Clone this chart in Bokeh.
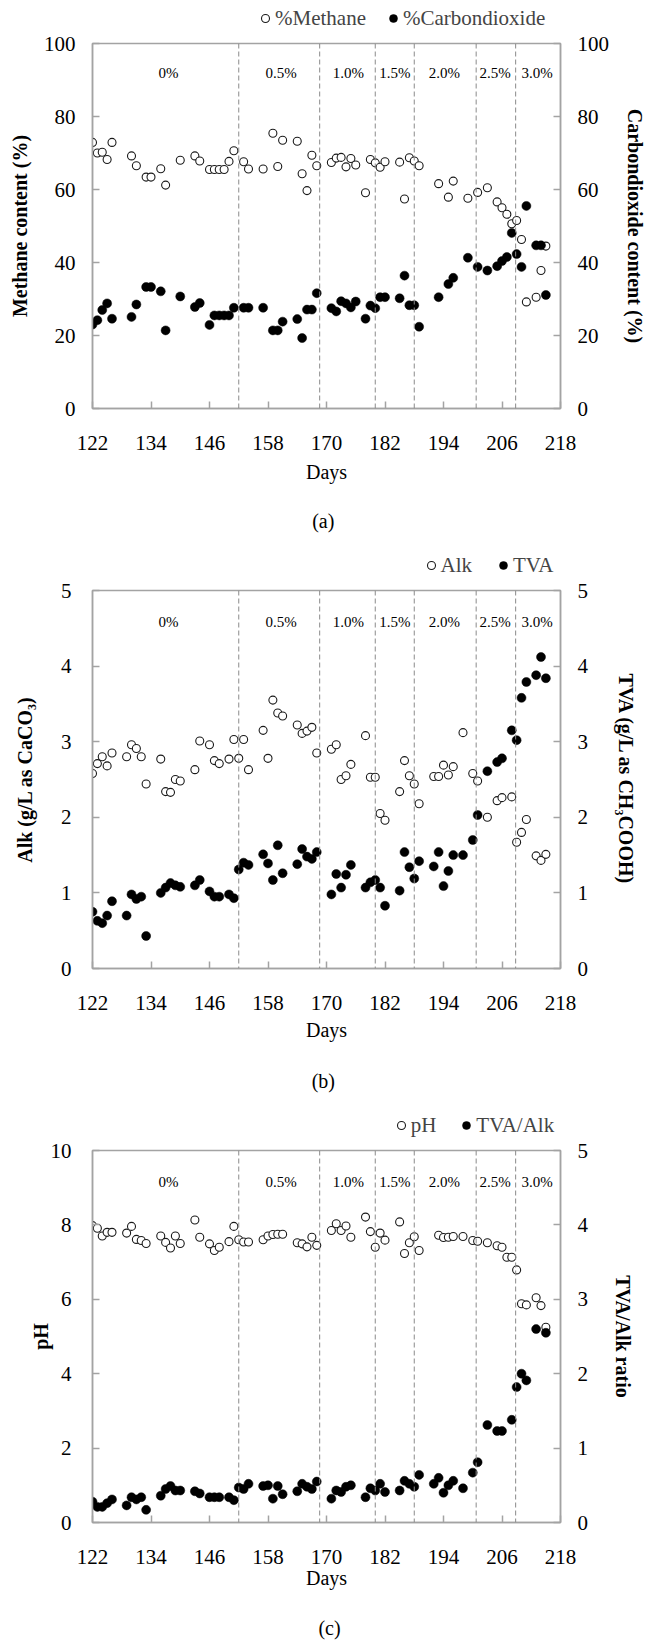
from bokeh.plotting import figure
from bokeh.models import Range1d, LinearAxis, FixedTicker, Span, Legend, LegendItem, Label
from bokeh.layouts import column
from bokeh.embed import file_html
from bokeh.resources import INLINE
from bokeh.core.properties import value

FONT = "Liberation Serif"
AXIS_GRAY = "#a3a3a3"

# ---------------- data ----------------
x_ticks = [122, 134, 146, 158, 170, 182, 194, 206, 218]
phase_names = ["0%", "0.5%", "1.0%", "1.5%", "2.0%", "2.5%", "3.0%"]
phase_label_x = [137.6, 160.7, 174.5, 184.0, 194.2, 204.6, 213.2]
phase_bounds = [152, 168.6, 180, 188, 200.7, 208.8]

# (a) gas composition
days_a = [122, 123, 124, 125, 126, 130, 131, 133, 134, 136, 137, 140, 143, 144, 146, 147, 148, 149, 150, 151,
          153, 154, 157, 159, 160, 161, 164, 165, 166, 167, 168, 171, 172, 173, 174, 175, 176, 178, 179, 180,
          181, 182, 185, 186, 187, 188, 189, 193, 195, 196, 199, 201, 203, 205, 206, 207, 208, 209, 210, 211,
          213, 214, 215]
methane = [72.9, 70.0, 70.2, 68.2, 72.9, 69.2, 66.5, 63.4, 63.4, 65.7, 61.2, 68.0, 69.2, 67.8, 65.5, 65.5,
           65.5, 65.5, 67.7, 70.6, 67.6, 65.6, 65.6, 75.4, 66.3, 73.5, 73.2, 64.3, 59.7, 69.4, 66.5, 67.4,
           68.6, 68.8, 66.2, 68.5, 66.7, 59.1, 68.2, 67.3, 66.1, 67.6, 67.5, 57.4, 68.7, 67.8, 66.5, 61.6,
           57.9, 62.3, 57.6, 59.2, 60.5, 56.6, 55.0, 53.2, 50.6, 51.5, 46.3, 29.2, 30.5, 37.8, 44.5]
co2 = [23.0, 24.2, 27.0, 28.8, 24.6, 25.1, 28.5, 33.3, 33.3, 32.1, 21.4, 30.7, 27.8, 28.9, 22.9, 25.5, 25.5,
       25.5, 25.5, 27.6, 27.6, 27.6, 27.6, 21.4, 21.4, 23.8, 24.5, 19.3, 27.1, 27.1, 31.6, 27.5, 26.6, 29.4,
       28.8, 27.7, 29.3, 24.6, 28.2, 27.5, 30.5, 30.5, 30.2, 36.4, 28.3, 28.3, 22.4, 30.5, 34.1, 35.8, 41.3,
       38.8, 37.8, 39.0, 40.4, 41.5, 48.1, 42.3, 38.8, 55.5, 44.7, 44.7, 31.1]

# (b) alkalinity and TVA
days_b = [122, 123, 124, 125, 126, 129, 130, 131, 132, 133, 136, 137, 138, 139, 140, 143, 144, 146, 147, 148,
          150, 151, 152, 153, 154, 157, 158, 159, 160, 161, 164, 165, 166, 167, 168, 171, 172, 173, 174, 175,
          178, 179, 180, 181, 182, 185, 186, 187, 188, 189, 192, 193, 194, 195, 196, 198, 200, 201, 203, 205,
          206, 208, 209, 210, 211, 213, 214, 215]
alk = [2.58, 2.71, 2.80, 2.68, 2.85, 2.80, 2.96, 2.91, 2.80, 2.44, 2.77, 2.34, 2.33, 2.50, 2.48, 2.63, 3.01,
       2.96, 2.75, 2.71, 2.77, 3.03, 2.78, 3.03, 2.63, 3.15, 2.78, 3.55, 3.38, 3.34, 3.22, 3.11, 3.14, 3.19,
       2.85, 2.90, 2.96, 2.50, 2.55, 2.70, 3.08, 2.53, 2.53, 2.05, 1.96, 2.34, 2.75, 2.55, 2.44, 2.18, 2.54,
       2.54, 2.69, 2.56, 2.67, 3.12, 2.58, 2.48, 2.00, 2.22, 2.26, 2.27, 1.67, 1.80, 1.97, 1.49, 1.43, 1.51]
tva = [0.75, 0.63, 0.60, 0.70, 0.89, 0.70, 0.98, 0.92, 0.95, 0.43, 1.00, 1.07, 1.13, 1.10, 1.08, 1.10, 1.17,
       1.02, 0.95, 0.95, 0.98, 0.93, 1.31, 1.40, 1.37, 1.51, 1.39, 1.17, 1.63, 1.26, 1.38, 1.58, 1.48, 1.45,
       1.54, 0.98, 1.25, 1.07, 1.24, 1.37, 1.07, 1.14, 1.17, 1.07, 0.83, 1.03, 1.54, 1.34, 1.19, 1.42, 1.35,
       1.54, 1.09, 1.29, 1.50, 1.50, 1.70, 2.03, 2.61, 2.73, 2.78, 3.15, 3.02, 3.58, 3.79, 3.88, 4.12, 3.84]

# (c) pH and TVA/Alk ratio
days_ph = [122, 123, 124, 125, 126, 129, 130, 131, 132, 133, 136, 137, 138, 139, 140, 143, 144, 146, 147, 148,
           150, 151, 152, 153, 154, 157, 158, 159, 160, 161, 164, 165, 166, 167, 168, 171, 172, 173, 174, 175,
           178, 179, 180, 181, 182, 185, 186, 187, 188, 189, 193, 194, 195, 196, 198, 200, 201, 203, 205, 206,
           207, 208, 209, 210, 211, 213, 214, 215]
ph = [7.98, 7.91, 7.70, 7.80, 7.80, 7.78, 7.96, 7.61, 7.58, 7.50, 7.70, 7.53, 7.38, 7.70, 7.50, 8.13, 7.67,
      7.49, 7.31, 7.40, 7.55, 7.96, 7.60, 7.54, 7.54, 7.60, 7.70, 7.74, 7.75, 7.75, 7.52, 7.49, 7.41, 7.67,
      7.45, 7.85, 8.03, 7.85, 7.97, 7.67, 8.21, 7.82, 7.40, 7.78, 7.59, 8.08, 7.23, 7.52, 7.68, 7.31, 7.72,
      7.66, 7.67, 7.69, 7.69, 7.58, 7.56, 7.52, 7.44, 7.40, 7.13, 7.13, 6.79, 5.88, 5.85, 6.04, 5.83, 5.25]
days_ratio = [122, 123, 124, 125, 126, 129, 130, 131, 132, 133, 136, 137, 138, 139, 140, 143, 144, 146, 147,
              148, 150, 151, 152, 153, 154, 157, 158, 159, 160, 161, 164, 165, 166, 167, 168, 171, 172, 173,
              174, 175, 178, 179, 180, 181, 182, 185, 186, 187, 188, 189, 192, 193, 194, 195, 196, 198, 200,
              201, 203, 205, 206, 208, 209, 210, 211, 213, 215]
ratio = [0.28, 0.21, 0.21, 0.26, 0.31, 0.23, 0.34, 0.31, 0.34, 0.17, 0.36, 0.45, 0.49, 0.43, 0.43, 0.42, 0.39,
         0.34, 0.34, 0.34, 0.34, 0.30, 0.47, 0.45, 0.52, 0.49, 0.50, 0.32, 0.49, 0.38, 0.42, 0.52, 0.48, 0.45,
         0.55, 0.32, 0.43, 0.41, 0.48, 0.50, 0.34, 0.46, 0.43, 0.52, 0.41, 0.43, 0.56, 0.52, 0.48, 0.64, 0.52,
         0.60, 0.40, 0.50, 0.56, 0.46, 0.67, 0.81, 1.31, 1.23, 1.23, 1.38, 1.82, 2.00, 1.91, 2.60, 2.55]

OPEN_STYLE = dict(marker="circle", size=8, fill_color="white", line_color="#1a1a1a", line_width=1.1)
FILL_STYLE = dict(marker="circle", size=9, fill_color="black", line_color="black", line_width=0.5)
LEFT_BORDER = 92


def style_axis(ax, ticks, tick_standoff, title_standoff, bold=True):
    ax.ticker = FixedTicker(ticks=ticks)
    ax.minor_tick_line_color = None
    ax.major_tick_in = 7
    ax.major_tick_out = 0
    ax.axis_line_color = AXIS_GRAY
    ax.axis_line_width = 1.5
    ax.major_tick_line_color = AXIS_GRAY
    ax.major_tick_line_width = 1.5
    ax.major_label_text_font = FONT
    ax.major_label_text_font_size = "21px"
    ax.major_label_text_color = "black"
    ax.major_label_standoff = tick_standoff
    ax.axis_label_text_font = FONT
    ax.axis_label_text_font_size = "20px"
    ax.axis_label_text_font_style = "bold" if bold else "normal"
    ax.axis_label_text_color = "black"
    ax.axis_label_standoff = title_standoff


def blank_figure(h):
    # strip without axes; its frame has the same left/right borders as the panels
    f = figure(width=649, height=h, x_range=Range1d(122, 218), y_range=Range1d(1000, 1001),
               output_backend="svg", toolbar_location=None,
               min_border_left=LEFT_BORDER, min_border_right=87, min_border_top=0, min_border_bottom=0,
               x_axis_location=None, y_axis_location=None, outline_line_color=None,
               background_fill_color="white", border_fill_color="white")
    f.xgrid.visible = False
    f.ygrid.visible = False
    return f


def make_legend_fig(h, names, xo, yo, xf, yf, x, spacing):
    f = blank_figure(h)
    # series drawn again (outside this strip's visible y range) so the legend shows their markers
    r_open = f.scatter(xo, yo, **OPEN_STYLE)
    r_fill = f.scatter(xf, yf, **FILL_STYLE)
    lg = Legend(items=[LegendItem(label=names[0], renderers=[r_open]),
                       LegendItem(label=names[1], renderers=[r_fill])],
                orientation="horizontal", location=(x, 0.4), padding=0, margin=0,
                spacing=spacing, glyph_width=20, glyph_height=20, label_standoff=0,
                label_text_font=FONT, label_text_font_size="21px", label_height=20,
                border_line_color=None, background_fill_alpha=0)
    f.add_layout(lg)
    return f


def make_tag(text, h, x, y):
    t = blank_figure(h)
    t.add_layout(Label(x=x, y=y, x_units="screen", y_units="screen", text=text, text_font=FONT,
                       text_font_size="20px", text_align="center", text_baseline="middle",
                       text_color="black"))
    return t


def make_panel(cfg):
    p = figure(width=649, height=cfg["h"], x_range=Range1d(122, 218),
               y_range=Range1d(0, cfg["top_l"]),
               output_backend="svg", toolbar_location=None,
               min_border_left=LEFT_BORDER, min_border_right=cfg["b_right"],
               min_border_top=12, min_border_bottom=cfg["b_bottom"],
               background_fill_color="white", border_fill_color="white",
               outline_line_color=AXIS_GRAY, outline_line_width=1.5)
    p.xgrid.visible = False
    p.ygrid.visible = False
    p.extra_y_ranges = {"r": Range1d(0, cfg["top_r"])}

    xa = p.xaxis[0]
    style_axis(xa, x_ticks, 27, cfg["days_std"], bold=False)
    xa.axis_label = "Days"

    ya = p.yaxis[0]
    style_axis(ya, cfg["ticks_l"], cfg["l_tick_std"], cfg["l_std"])
    ya.axis_label = cfg["title_l"]

    ra = LinearAxis(y_range_name="r")
    style_axis(ra, cfg["ticks_r"], 17, cfg["r_std"])
    ra.axis_label = cfg["title_r"]
    p.add_layout(ra, "right")

    for b in phase_bounds:
        p.add_layout(Span(location=b, dimension="height", line_color="#8a8a8a",
                          line_width=1, line_dash="5 3"))

    p.text(x=phase_label_x, y=[cfg["phase_y"]] * len(phase_label_x), text=phase_names,
           text_font=value(FONT), text_font_size="15px", text_align="center",
           text_baseline="middle", text_color="black")

    p.scatter(cfg["xo"], cfg["yo"], **OPEN_STYLE)
    p.scatter(cfg["xf"], cfg["yf"], y_range_name="r", **FILL_STYLE)
    return p


la = make_legend_fig(31, ["%Methane", "%Carbondioxide"], days_a, methane, days_a, co2, 163, 17)
pa = make_panel(dict(h=461, b_bottom=84, b_right=87, top_l=100, top_r=100,
                     ticks_l=[0, 20, 40, 60, 80, 100], ticks_r=[0, 20, 40, 60, 80, 100],
                     title_l="Methane content (%)", title_r="Carbondioxide content (%)",
                     l_tick_std=17, l_std=10, r_std=12, days_std=8,
                     xo=days_a, yo=methane, xf=days_a, yf=co2, phase_y=91.8))
ta = make_tag("(a)", 58, 230.8, 30)

lb = make_legend_fig(28, ["Alk", "TVA"], days_b, alk, days_b, tva, 328.5, 21)
pb = make_panel(dict(h=470, b_bottom=80, b_right=74, top_l=5, top_r=5,
                     ticks_l=[0, 1, 2, 3, 4, 5], ticks_r=[0, 1, 2, 3, 4, 5],
                     title_l="Alk (g/L as CaCO₃)", title_r="TVA (g/L as CH₃COOH)",
                     l_tick_std=21, l_std=22, r_std=24, days_std=6,
                     xo=days_b, yo=alk, xf=days_b, yf=tva, phase_y=4.58))
tb = make_tag("(b)", 52, 230.8, 20)

lc = make_legend_fig(38, ["pH", "TVA/Alk"], days_ph, ph, days_ratio, ratio, 298.7, 20)
pc = make_panel(dict(h=460, b_bottom=76, b_right=74, top_l=10, top_r=5,
                     ticks_l=[0, 2, 4, 6, 8, 10], ticks_r=[0, 1, 2, 3, 4, 5],
                     title_l="pH", title_r="TVA/Alk ratio",
                     l_tick_std=21, l_std=-4, r_std=21, days_std=0,
                     xo=days_ph, yo=ph, xf=days_ratio, yf=ratio, phase_y=9.15))
tc = make_tag("(c)", 49, 237, 20)

layout = column(la, pa, ta, lb, pb, tb, lc, pc, tc, spacing=0)
open("out.html", "w").write(file_html(layout, INLINE))
